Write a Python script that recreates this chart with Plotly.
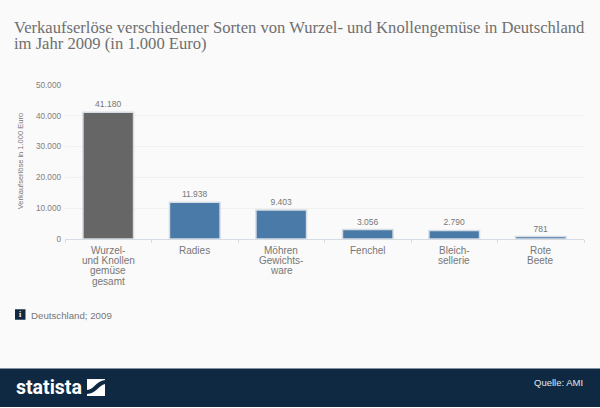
import plotly.graph_objects as go

categories = ["Wurzel-<br>und Knollen<br>gemüse<br>gesamt", "Radies", "Möhren<br>Gewichts-<br>ware",
              "Fenchel", "Bleich-<br>sellerie", "Rote<br>Beete"]
values = [41180, 11938, 9403, 3056, 2790, 781]
value_labels = ["41.180", "11.938", "9.403", "3.056", "2.790", "781"]
bar_colors = ["#666666", "#4a7aa8", "#4a7aa8", "#4a7aa8", "#4a7aa8", "#4a7aa8"]
tick_vals = [0, 10000, 20000, 30000, 40000, 50000]
tick_text = ["0", "10.000", "20.000", "30.000", "40.000", "50.000"]

W, H = 600, 408
L, R, T, B = 65, 16, 85, 168.5
px = lambda x: (x - L) / (W - L - R)
py = lambda y: 1 - (y - T) / (H - T - B)
SANS = "Liberation Sans"
SERIF = "Liberation Serif"

fig = go.Figure(go.Bar(
    x=list(range(len(values))), y=values, width=0.585,
    marker=dict(color=bar_colors, line=dict(color="#d6dde4", width=1.5)),
    text=value_labels, textposition="outside", cliponaxis=False,
    textfont=dict(family=SANS, size=8.5, color="#777777"),
))

shapes = [
    dict(type="rect", xref="paper", yref="paper", x0=px(0), x1=px(600), y0=py(369.5), y1=py(408),
         fillcolor="#0f2942", line_width=0, layer="below"),
    dict(type="rect", xref="paper", yref="paper", x0=px(15), x1=px(25.5), y0=py(310), y1=py(320.5),
         fillcolor="#0f2942", line_width=0),
    dict(type="path", xref="paper", yref="paper", line_width=0, fillcolor="#ffffff",
         path=f"M {px(87)} {py(380)} L {px(105)} {py(380)} L {px(105)} {py(397)} L {px(87)} {py(397)} Z"),
    dict(type="path", xref="paper", yref="paper", line_width=0, fillcolor="#0f2942",
         path=f"M {px(87)} {py(391)} C {px(94)} {py(391)} {px(96)} {py(382)} {px(105)} {py(381)} "
              f"L {px(105)} {py(385)} C {px(99)} {py(386)} {px(96)} {py(395)} {px(87)} {py(395)} Z"),
]

annotations = [
    dict(text="Verkaufserlöse verschiedener Sorten von Wurzel- und Knollengemüse in Deutschland",
         xref="paper", yref="paper", x=px(12), y=py(27.5), xanchor="left", yanchor="middle",
         showarrow=False, font=dict(family=SERIF, size=16.6, color="#6f6f6f")),
    dict(text="im Jahr 2009 (in 1.000 Euro)",
         xref="paper", yref="paper", x=px(12), y=py(43.5), xanchor="left", yanchor="middle",
         showarrow=False, font=dict(family=SERIF, size=16.6, color="#6f6f6f")),
    dict(text="Verkaufserlöse in 1.000 Euro", xref="paper", yref="paper", x=px(20), y=py(161.5),
         textangle=-90, showarrow=False, xanchor="center", yanchor="middle",
         font=dict(family=SANS, size=7.5, color="#777777")),
    dict(text="Deutschland; 2009", xref="paper", yref="paper", x=px(28.5), y=py(316), xanchor="left",
         yanchor="middle", showarrow=False, font=dict(family=SANS, size=9.7, color="#777777")),
    dict(text="<b>i</b>", xref="paper", yref="paper", x=px(20.3), y=py(315), xanchor="center",
         yanchor="middle", showarrow=False, font=dict(family=SERIF, size=8, color="#ffffff")),
    dict(text="<b>statista</b>", xref="paper", yref="paper", x=px(14), y=py(388.5), xanchor="left",
         yanchor="middle", showarrow=False,
         font=dict(family="Roboto", size=19.5, color="#ffffff")),
    dict(text="Quelle: AMI", xref="paper", yref="paper", x=px(585), y=py(383.5), xanchor="right",
         yanchor="middle", showarrow=False, font=dict(family=SANS, size=9.5, color="#e4e8ec")),
]

# category labels, one annotation per line so the tight line spacing can be kept
for i, label in enumerate(categories):
    for j, line in enumerate(label.split("<br>")):
        annotations.append(dict(text=line, xref="x", yref="paper", x=i, y=py(251 + j * 10.3),
                                xanchor="center", yanchor="middle", showarrow=False,
                                font=dict(family=SANS, size=10, color="#777777")))

fig.update_layout(
    width=W, height=H, autosize=False, showlegend=False, bargap=0.4,
    margin=dict(l=L, r=R, t=T, b=B),
    paper_bgcolor="#fafafa", plot_bgcolor="rgba(0,0,0,0)",
    shapes=shapes, annotations=annotations,
    xaxis=dict(range=[-0.5, 5.5], tickmode="array", tickvals=[-0.5, 0.5, 1.5, 2.5, 3.5, 4.5, 5.5],
               ticktext=[""] * 7, ticks="outside", ticklen=3, tickcolor="#d5dce3",
               linecolor="#d5dce3", linewidth=1, showgrid=False),
    yaxis=dict(range=[0, 50000], tickvals=tick_vals, ticktext=tick_text, ticks="",
               gridcolor="#f0f0f0", gridwidth=1, zeroline=False, showline=False, ticklabelstandoff=3,
               tickfont=dict(family=SANS, size=8.2, color="#808080")),
)

fig.write_html("out.html", config={"displayModeBar": False},
               post_script="document.body.style.margin='0';document.body.style.background='#fafafa';")
